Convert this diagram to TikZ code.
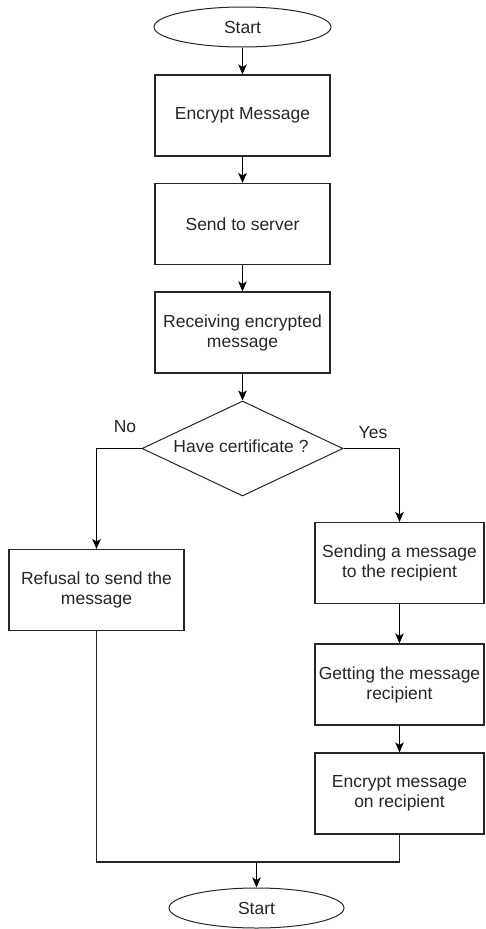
\documentclass[tikz,border=0pt]{standalone}
\usepackage{fontspec}
\setmainfont{Liberation Sans}
\usetikzlibrary{shapes.geometric,arrows.meta}
\begin{document}
\begin{tikzpicture}[x=1pt,y=-1pt,
  every node/.style={font=\fontsize{17.5}{20}\selectfont, text=black!85},
  box/.style={draw=black!85, line width=1.1pt, rectangle, inner sep=0pt, minimum width=175pt, minimum height=81pt, align=center},
  rbox/.style={box, minimum width=169pt},
  term/.style={draw=black!85, line width=1.0pt, ellipse, inner sep=0pt, minimum width=177pt, minimum height=40pt},
  dec/.style={draw=black!85, line width=1.0pt, diamond, inner sep=0pt, minimum width=201pt, minimum height=95pt},
  arr/.style={draw=black, line width=1.2pt, -{Stealth[length=10pt,width=8.5pt,inset=2.5pt]}},
  ln/.style={draw=black!85, line width=1.2pt},
  lbl/.style={inner sep=0pt}
]
\useasboundingbox (0,0) rectangle (485,929);
\node[term] (start) at (242.5,27) {Start};
\node[box] (enc) at (242.5,115.5) {Encrypt Message};
\node[box] (srv) at (242.5,224) {Send to server};
\node[box] (recv) at (242.5,332.5) {Receiving encrypted\\message};
\node[dec] (cert) at (242.5,448.5) {};
\node[lbl] (certtxt) at (241,446.5) {Have certificate ?};
\node[box] (refuse) at (96.5,590) {Refusal to send the\\message};
\node[rbox] (send1) at (399.5,563) {Sending a message\\to the recipient};
\node[rbox] (get) at (399.5,684.5) {Getting the message\\recipient};
\node[rbox] (enc2) at (399.5,793.5) {Encrypt message\\on recipient};
\node[term, minimum width=175pt] (end) at (256.5,908) {Start};
\node[lbl] (no) at (125,427) {No};
\node[lbl] (yes) at (373,433) {Yes};
\coordinate (m) at (256.5,862);

\draw[arr] (start) -- (enc);
\draw[arr] (enc) -- (srv);
\draw[arr] (srv) -- (recv);
\draw[arr] (recv) -- (cert.north);
\draw[arr] (cert.west) -| (refuse.north);
\draw[arr] (cert.east) -| (send1.north);
\draw[arr] (send1) -- (get);
\draw[arr] (get) -- (enc2);
\draw[ln] (refuse.south) |- (m);
\draw[ln] (enc2.south) |- (m);
\draw[arr] (m) -- (end.north);
\end{tikzpicture}
\end{document}
